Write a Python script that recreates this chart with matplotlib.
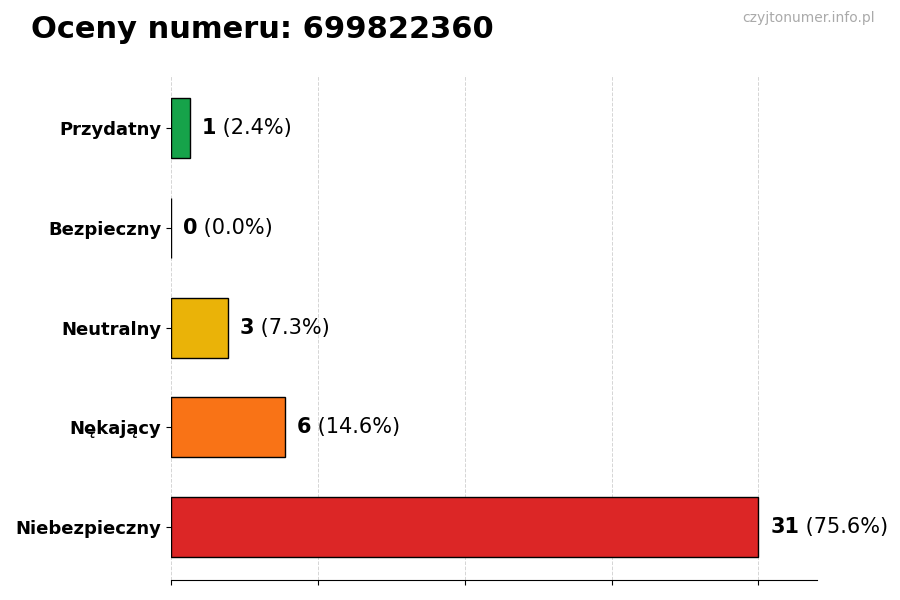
import matplotlib.pyplot as plt
import numpy as np

categories = ['Niebezpieczny', 'Nękający', 'Neutralny', 'Bezpieczny', 'Przydatny']
counts = [31, 6, 3, 0, 1]
colors = ['#dc2626', '#f97316', '#eab308', '#9ca3af', '#16a34a']
title = 'Oceny numeru: 699822360'
watermark = 'czyjtonumer.info.pl'

total = sum(counts)
fig = plt.figure(figsize=(9, 6), dpi=100)
ax = fig.add_axes([0.19, 0.033, 0.718, 0.842])

y = np.arange(len(categories))
ax.barh(y, counts, height=0.6, color=colors, edgecolor='black', linewidth=1, zorder=3)

xmax = max(counts)
ax.set_xlim(0, xmax * 1.1)
ax.set_xticks(np.linspace(0, xmax, 5))
ax.set_xticklabels([])
ax.grid(axis='x', linestyle='--', color='#d5d5d5', linewidth=0.7, zorder=0)

ax.set_yticks(y)
ax.set_yticklabels(categories, fontsize=13, fontweight='bold')

for s in ['top', 'right', 'left']:
    ax.spines[s].set_visible(False)

for i, c in enumerate(counts):
    pct = c / total * 100
    t = ax.annotate(f'{c}', xy=(c, i), xytext=(8.5, 0), textcoords='offset points',
                    va='center', ha='left', fontsize=15, fontweight='bold')
    ax.annotate(f' ({pct:.1f}%)', xycoords=t, xy=(1, 0.5), va='center', ha='left', fontsize=15)

fig.text(0.034, 0.95, title, fontsize=22, fontweight='bold', va='center', ha='left')
fig.text(0.972, 0.97, watermark, fontsize=10, color='#aaaaaa', va='center', ha='right')

fig.savefig('out.png')
